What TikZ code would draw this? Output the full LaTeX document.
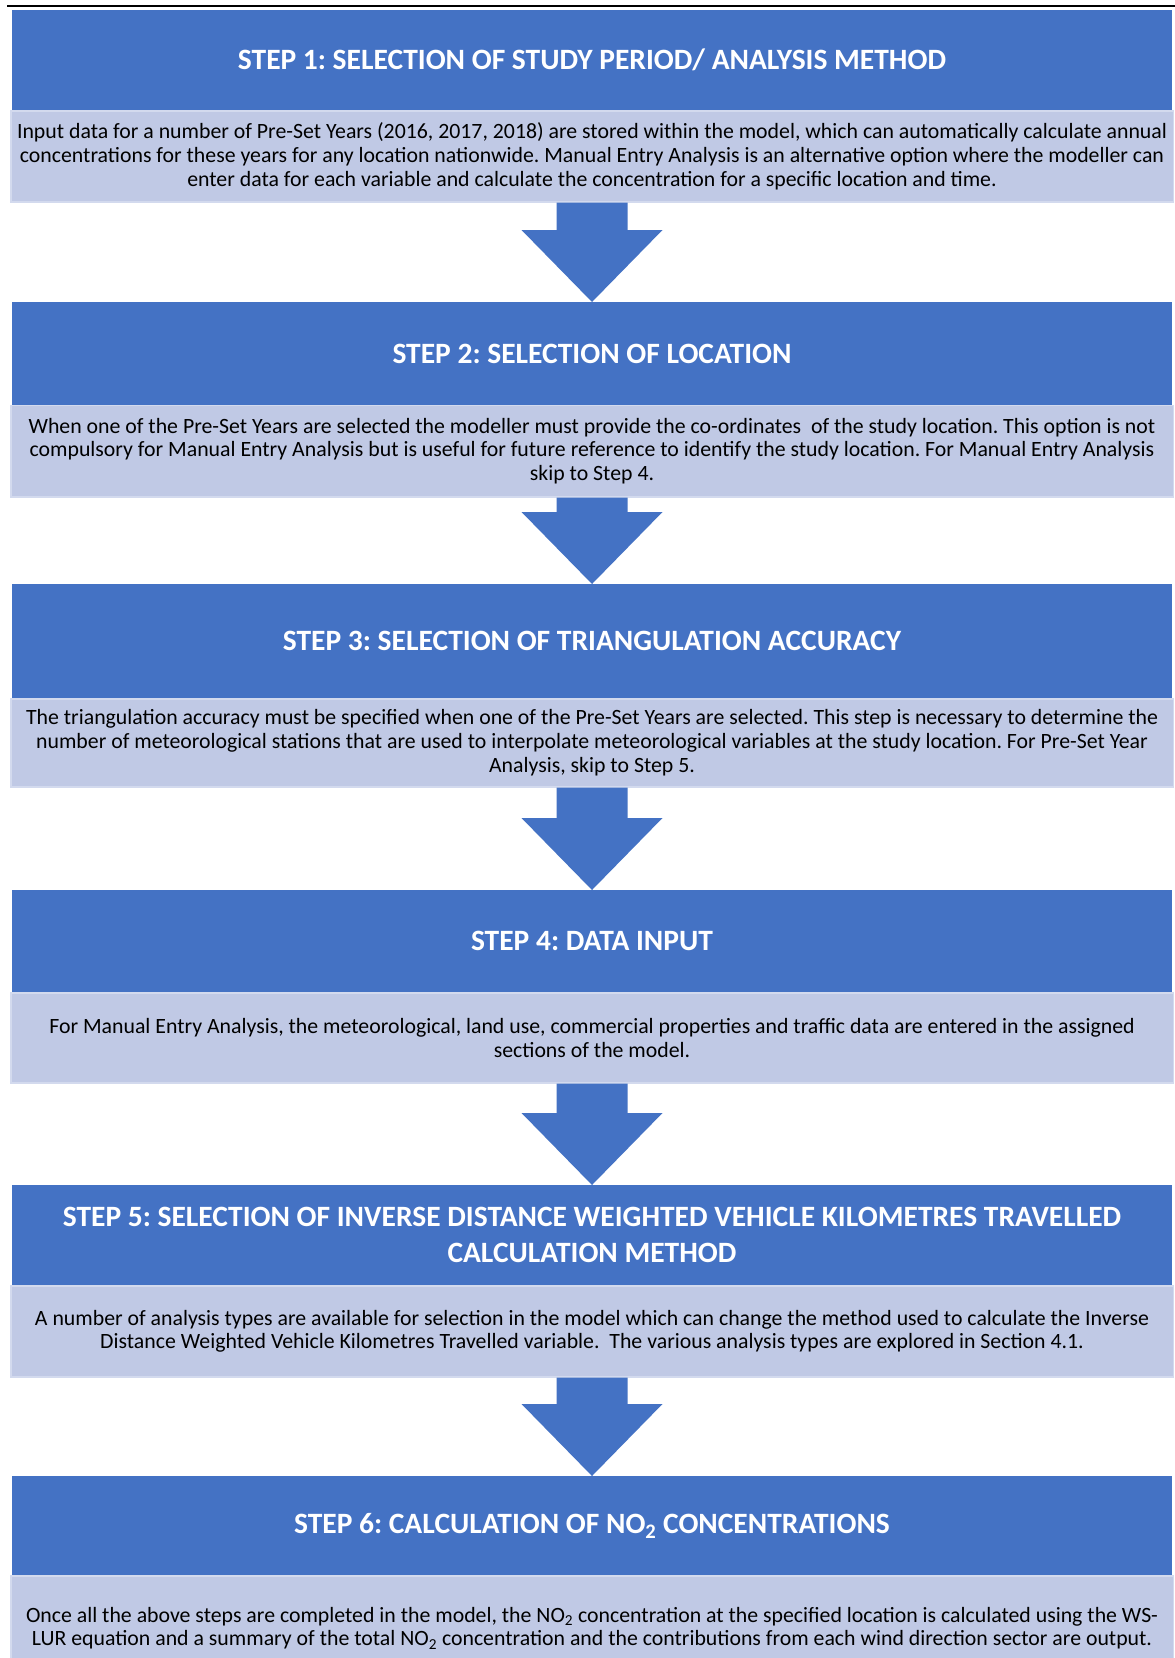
\documentclass[tikz,border=0pt]{standalone}
\usepackage{fontspec}
\setmainfont{Carlito}
\usetikzlibrary{calc}
\definecolor{stepblue}{HTML}{4472C4}
\definecolor{steplight}{HTML}{C0C9E5}
\definecolor{stepedge}{HTML}{D3DAEE}

\tikzset{
  headbox/.style={fill=stepblue, draw=none, minimum width=1160pt, inner sep=0pt,
    text=white, font=\fontsize{29.5}{36}\selectfont\bfseries\frenchspacing, align=center, anchor=north},
  bodybox/.style={fill=steplight, draw=stepedge, line width=1.5pt, minimum width=1162.5pt,
    inner sep=0pt, text=black, font=\fontsize{21.8}{23.8}\selectfont\frenchspacing, align=center, anchor=north},
}

% block arrow from the bottom of one box to the top of the next
\newcommand{\stepflow}[2]{%
  \fill[stepblue] let \p1=(#1.south), \p2=(#2.north) in
    (\x1-35.5pt,\y1) -- (\x1+35.5pt,\y1) -- (\x1+35.5pt,\y2+72pt) -- (\x1+70.5pt,\y2+72pt)
    -- (\x2,\y2) -- (\x1-70.5pt,\y2+72pt) -- (\x1-35.5pt,\y2+72pt) -- cycle;}

\begin{document}
\begin{tikzpicture}[x=1pt,y=-1pt]
\clip (0,0) rectangle (1175,1658);
\fill[white] (0,0) rectangle (1175,1658);

% rule above the chart
\coordinate (ruleL) at (7,5.5);
\coordinate (ruleR) at (1175,5.5);
\draw[line width=2pt, black] (ruleL) -- (ruleR);

% step 1
\node[headbox, minimum height=100.5pt] (h1) at (592,9.5)
  {STEP 1: SELECTION OF STUDY PERIOD/ ANALYSIS METHOD};
\node[bodybox, minimum height=91pt] (b1) at (592,110)
  {Input data for a number of Pre-Set Years (2016, 2017, 2018) are stored within the model, which can automatically calculate annual\\
   concentrations for these years for any location nationwide. Manual Entry Analysis is an alternative option where the modeller can\\
   enter data for each variable and calculate the concentration for a specific location and time.};

% step 2
\node[headbox, minimum height=102.5pt] (h2) at (592,302)
  {STEP 2: SELECTION OF LOCATION};
\node[bodybox, minimum height=91.5pt] (b2) at (592,404.5)
  {When one of the Pre-Set Years are selected the modeller must provide the co-ordinates\ \ of the study location. This option is not\\
   compulsory for Manual Entry Analysis but is useful for future reference to identify the study location. For Manual Entry Analysis\\
   skip to Step 4.};

% step 3
\node[headbox, minimum height=114pt] (h3) at (592,584)
  {STEP 3: SELECTION OF TRIANGULATION ACCURACY};
\node[bodybox, minimum height=88pt] (b3) at (592,698)
  {The triangulation accuracy must be specified when one of the Pre-Set Years are selected. This step is necessary to determine the\\
   number of meteorological stations that are used to interpolate meteorological variables at the study location. For Pre-Set Year\\
   Analysis, skip to Step 5.};

% step 4
\node[headbox, minimum height=102pt] (h4) at (592,890)
  {STEP 4: DATA INPUT};
\node[bodybox, minimum height=90pt] (b4) at (592,992)
  {For Manual Entry Analysis, the meteorological, land use, commercial properties and traffic data are entered in the assigned\\
   sections of the model.};

% step 5
\node[headbox, minimum height=100pt] (h5) at (592,1185)
  {STEP 5: SELECTION OF INVERSE DISTANCE WEIGHTED VEHICLE KILOMETRES TRAVELLED\\
   CALCULATION METHOD};
\node[bodybox, minimum height=91pt] (b5) at (592,1285)
  {A number of analysis types are available for selection in the model which can change the method used to calculate the Inverse\\
   Distance Weighted Vehicle Kilometres Travelled variable.\ \ The various analysis types are explored in Section 4.1.};

% step 6
\node[headbox, minimum height=99pt] (h6) at (592,1476)
  {STEP 6: CALCULATION OF NO\textsubscript{2} CONCENTRATIONS};
\node[bodybox, minimum height=105pt] (b6) at (592,1575)
  {Once all the above steps are completed in the model, the NO\textsubscript{2} concentration at the specified location is calculated using the WS-\\
   LUR equation and a summary of the total NO\textsubscript{2} concentration and the contributions from each wind direction sector are output.};

% arrows between the steps
\stepflow{b1}{h2}
\stepflow{b2}{h3}
\stepflow{b3}{h4}
\stepflow{b4}{h5}
\stepflow{b5}{h6}
\end{tikzpicture}
\end{document}
